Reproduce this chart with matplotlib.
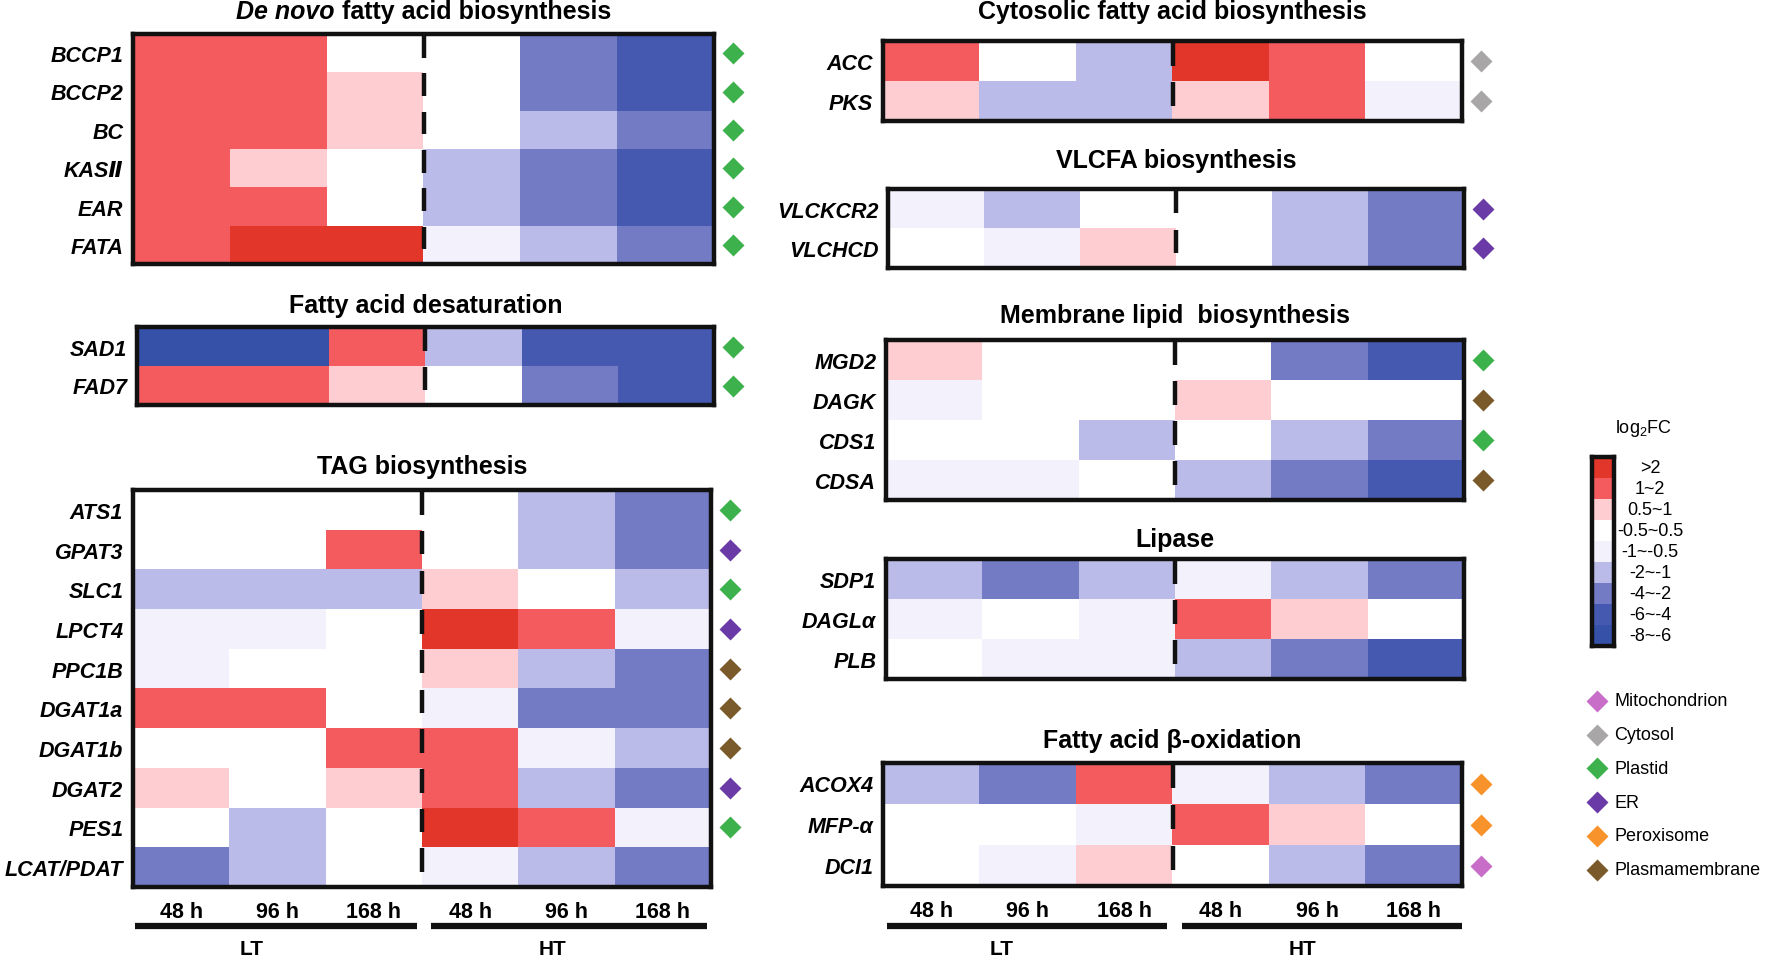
import numpy as np
import matplotlib
matplotlib.use('Agg')
import matplotlib.pyplot as plt
from matplotlib.colors import ListedColormap, BoundaryNorm
from matplotlib.transforms import blended_transform_factory

plt.rcParams['font.family'] = ['Liberation Sans', 'DejaVu Sans']
plt.rcParams['mathtext.fontset'] = 'custom'
plt.rcParams['mathtext.rm'] = 'Liberation Sans'

# ---- data ----
times = ['48 h', '96 h', '168 h', '48 h', '96 h', '168 h']

bin_labels = ['>2', '1~2', '0.5~1', '-0.5~0.5', '-1~-0.5', '-2~-1', '-4~-2', '-6~-4', '-8~-6']
bin_values = [3, 1.5, 0.75, 0, -0.75, -1.5, -3, -5, -7]
bin_colors = ['#E2362A', '#F45B5F', '#FECDD1', '#FFFFFF', '#F3F1FB',
              '#BABBE8', '#737BC5', '#4659B0', '#3651A8']
bounds = [-8, -6, -4, -2, -1, -0.5, 0.5, 1, 2, 4]

loc_names = ['Mitochondrion', 'Cytosol', 'Plastid', 'ER', 'Peroxisome', 'Plasmamembrane']
loc_colors = ['#C86DC8', '#A9A6A8', '#3DB24C', '#6A3BA7', '#F7932A', '#7A5A2A']

denovo_genes = ['BCCP1', 'BCCP2', 'BC', 'KAS\u2161', 'EAR', 'FATA']
denovo_fc = [[1.5, 1.5, 0, 0, -3, -5],
             [1.5, 1.5, 0.75, 0, -3, -5],
             [1.5, 1.5, 0.75, 0, -1.5, -3],
             [1.5, 0.75, 0, -1.5, -3, -5],
             [1.5, 1.5, 0, -1.5, -3, -5],
             [1.5, 3, 3, -0.75, -1.5, -3]]
denovo_loc = ['Plastid'] * 6

desat_genes = ['SAD1', 'FAD7']
desat_fc = [[-7, -7, 1.5, -1.5, -5, -5],
            [1.5, 1.5, 0.75, 0, -3, -5]]
desat_loc = ['Plastid', 'Plastid']

tag_genes = ['ATS1', 'GPAT3', 'SLC1', 'LPCT4', 'PPC1B', 'DGAT1a', 'DGAT1b', 'DGAT2', 'PES1', 'LCAT/PDAT']
tag_fc = [[0, 0, 0, 0, -1.5, -3],
          [0, 0, 1.5, 0, -1.5, -3],
          [-1.5, -1.5, -1.5, 0.75, 0, -1.5],
          [-0.75, -0.75, 0, 3, 1.5, -0.75],
          [-0.75, 0, 0, 0.75, -1.5, -3],
          [1.5, 1.5, 0, -0.75, -3, -3],
          [0, 0, 1.5, 1.5, -0.75, -1.5],
          [0.75, 0, 0.75, 1.5, -1.5, -3],
          [0, -1.5, 0, 3, 1.5, -0.75],
          [-3, -1.5, 0, -0.75, -1.5, -3]]
tag_loc = ['Plastid', 'ER', 'Plastid', 'ER', 'Plasmamembrane', 'Plasmamembrane',
           'Plasmamembrane', 'ER', 'Plastid', None]

cyto_genes = ['ACC', 'PKS']
cyto_fc = [[1.5, 0, -1.5, 3, 1.5, 0],
           [0.75, -1.5, -1.5, 0.75, 1.5, -0.75]]
cyto_loc = ['Cytosol', 'Cytosol']

vlcfa_genes = ['VLCKCR2', 'VLCHCD']
vlcfa_fc = [[-0.75, -1.5, 0, 0, -1.5, -3],
            [0, -0.75, 0.75, 0, -1.5, -3]]
vlcfa_loc = ['ER', 'ER']

memb_genes = ['MGD2', 'DAGK', 'CDS1', 'CDSA']
memb_fc = [[0.75, 0, 0, 0, -3, -5],
           [-0.75, 0, 0, 0.75, 0, 0],
           [0, 0, -1.5, 0, -1.5, -3],
           [-0.75, -0.75, 0, -1.5, -3, -5]]
memb_loc = ['Plastid', 'Plasmamembrane', 'Plastid', 'Plasmamembrane']

lipase_genes = ['SDP1', 'DAGL\u03b1', 'PLB']
lipase_fc = [[-1.5, -3, -1.5, -0.75, -1.5, -3],
             [-0.75, 0, -0.75, 1.5, 0.75, 0],
             [0, -0.75, -0.75, -1.5, -3, -5]]
lipase_loc = [None, None, None]

box_genes = ['ACOX4', 'MFP-\u03b1', 'DCI1']
box_fc = [[-1.5, -3, 1.5, -0.75, -1.5, -3],
          [0, 0, -0.75, 1.5, 0.75, 0],
          [0, -0.75, 0.75, 0, -1.5, -3]]
box_loc = ['Peroxisome', 'Peroxisome', 'Mitochondrion']

# ---- figure ----
W, H = 1769, 962
fig = plt.figure(figsize=(W / 100, H / 100), dpi=100)
cmap = ListedColormap(bin_colors[::-1])
norm = BoundaryNorm(bounds, cmap.N)
loc_color = dict(zip(loc_names, loc_colors))

ov = fig.add_axes([0, 0, 1, 1], zorder=-1)
ov.set_xlim(0, W)
ov.set_ylim(H, 0)
ov.axis('off')


def heat(box, genes, fc, locs, title, title_y, bottom=False):
    x0, y0, x1, y1 = box
    ax = fig.add_axes([x0 / W, 1 - y1 / H, (x1 - x0) / W, (y1 - y0) / H])
    ax.imshow(np.array(fc), cmap=cmap, norm=norm, aspect='auto', interpolation='nearest')
    ax.set_yticks(range(len(genes)))
    ax.set_yticklabels(genes, fontsize=15.5, fontweight='bold', fontstyle='italic')
    ax.tick_params(axis='y', length=0, pad=7)
    if bottom:
        ax.set_xticks(range(len(times)))
        ax.set_xticklabels(times, fontsize=15.5, fontweight='bold')
        ax.tick_params(axis='x', length=0, pad=10)
    else:
        ax.set_xticks([])
    for s in ax.spines.values():
        s.set_linewidth(3.2)
        s.set_color('#111111')
    for i in range(len(genes)):
        ax.plot([2.5, 2.5], [i - 0.47, i + 0.12], color='#111111', lw=3.2,
                solid_capstyle='butt')
    tr = blended_transform_factory(ax.transAxes, ax.transData)
    xoff = 1 + 19 / (x1 - x0)
    for i, loc in enumerate(locs):
        if loc is None:
            continue
        ax.plot(xoff, i, marker='D', ms=11, color=loc_color[loc], transform=tr,
                clip_on=False, mec='none')
    if title is not None:
        ov.text((x0 + x1) / 2, title_y, title, ha='center', va='center',
                fontsize=18, fontweight='bold')
    return ax


heat((133, 35, 714, 265), denovo_genes, denovo_fc, denovo_loc, None, 12)
heat((137, 328, 714, 406), desat_genes, desat_fc, desat_loc, 'Fatty acid desaturation', 306)
heat((133, 491, 711, 888), tag_genes, tag_fc, tag_loc, 'TAG biosynthesis', 467, bottom=True)
heat((883, 42, 1462, 122), cyto_genes, cyto_fc, cyto_loc, 'Cytosolic fatty acid biosynthesis', 12)
heat((888, 190, 1464, 269), vlcfa_genes, vlcfa_fc, vlcfa_loc, 'VLCFA biosynthesis', 161)
heat((886, 341, 1464, 501), memb_genes, memb_fc, memb_loc, 'Membrane lipid  biosynthesis', 316)
heat((886, 560, 1464, 680), lipase_genes, lipase_fc, lipase_loc, 'Lipase', 540)
heat((883, 764, 1462, 887), box_genes, box_fc, box_loc, 'Fatty acid \u03b2-oxidation', 741, bottom=True)

# title with italic part
t1 = ov.text(0, 12, 'De novo', fontsize=18, fontweight='bold', fontstyle='italic', va='center')
t2 = ov.text(0, 12, ' fatty acid biosynthesis', fontsize=18, fontweight='bold', va='center')
fig.canvas.draw()
w1 = t1.get_window_extent().width
w2 = t2.get_window_extent().width
start = (133 + 714) / 2 - (w1 + w2) / 2
t1.set_x(start)
t2.set_x(start + w1)

# group bars and labels
for (a, b), lab, cx in [((135, 417), 'LT', 252), ((431, 707), 'HT', 552),
                        ((887, 1167), 'LT', 1002), ((1182, 1462), 'HT', 1303)]:
    ov.plot([a, b], [927, 927], color='#111111', lw=4.5, solid_capstyle='butt')
    ov.text(cx, 940, lab, ha='center', va='top', fontsize=15, fontweight='bold')

# colour key
cax = fig.add_axes([1592 / W, 1 - 647 / H, 22 / W, 189 / H])
cax.imshow(np.array(bin_values)[:, None], cmap=cmap, norm=norm, aspect='auto')
cax.set_xticks([])
cax.set_yticks([])
for s in cax.spines.values():
    s.set_linewidth(3.2)
    s.set_color('#111111')
step = 189 / len(bin_labels)
for i, lab in enumerate(bin_labels):
    ov.text(1650, 458 + step * (i + 0.5), lab, ha='center', va='center', fontsize=13)
ov.text(1643, 429, 'log$_2$FC', ha='center', va='center', fontsize=13)

# localisation legend
for i, (name, col) in enumerate(zip(loc_names, loc_colors)):
    y = 702 + i * 33.7
    ov.plot(1597, y, marker='D', ms=11, color=col, mec='none')
    ov.text(1614, y, name, ha='left', va='center', fontsize=13)

fig.savefig('out.png', dpi=100)
